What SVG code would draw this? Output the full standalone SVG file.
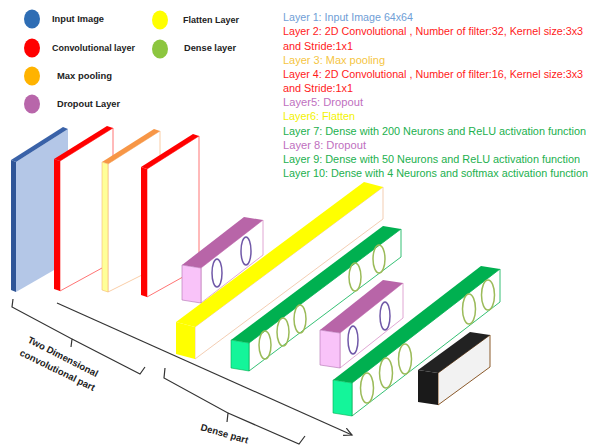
<svg xmlns="http://www.w3.org/2000/svg" width="593" height="448" viewBox="0 0 593 448">
<style>
.leg{font-family:"Liberation Sans",Arial,sans-serif;font-weight:bold;font-size:9px;fill:#222}
.lt{font-family:"Liberation Sans",Arial,sans-serif;font-size:10px}
.bt{font-family:"Liberation Sans",Arial,sans-serif;font-weight:bold;font-size:9.5px;fill:#222}
.red{fill:#ff1a1a}
.blu{fill:#6f9ed6}
.gold{fill:#f5c542}
.pur{fill:#c070c0}
.yel{fill:#f2f200}
.grn{fill:#22b04e}
.ell-p{fill:none;stroke:#7058a8;stroke-width:1.5}
.ell-g{fill:none;stroke:#9bbb59;stroke-width:1.5}
.line{fill:none;stroke:#333;stroke-width:1.2}
</style>
<defs>
<marker id="ah" markerWidth="10" markerHeight="10" refX="8" refY="5" orient="auto" markerUnits="userSpaceOnUse">
<path d="M0,1 L8,5 L0,9" fill="none" stroke="#333" stroke-width="1.2"/>
</marker>
</defs>
<rect width="593" height="448" fill="#fff"/>

<g id="legend">
<ellipse cx="32" cy="19" rx="8" ry="9.5" fill="#2e6db4"/>
<ellipse cx="32" cy="48" rx="8" ry="9.5" fill="#ff0000"/>
<ellipse cx="32" cy="76" rx="8" ry="9.5" fill="#ffb300"/>
<ellipse cx="32" cy="104" rx="8" ry="9.5" fill="#b866aa"/>
<ellipse cx="160" cy="20" rx="8" ry="9.5" fill="#ffff00"/>
<ellipse cx="160" cy="49" rx="8" ry="9.5" fill="#8cc63f"/>
<text class="leg" x="52" y="22" textLength="52" lengthAdjust="spacingAndGlyphs">Input Image</text>
<text class="leg" x="52" y="51" textLength="83" lengthAdjust="spacingAndGlyphs">Convolutional layer</text>
<text class="leg" x="57" y="79" textLength="55" lengthAdjust="spacingAndGlyphs">Max pooling</text>
<text class="leg" x="57" y="107" textLength="63" lengthAdjust="spacingAndGlyphs">Dropout Layer</text>
<text class="leg" x="183" y="23" textLength="56" lengthAdjust="spacingAndGlyphs">Flatten Layer</text>
<text class="leg" x="184" y="51" textLength="52" lengthAdjust="spacingAndGlyphs">Dense layer</text>
</g>

<g id="layer-text">
<text class="lt blu" x="283" y="21" textLength="130" lengthAdjust="spacingAndGlyphs">Layer 1: Input Image 64x64</text>
<text class="lt red" x="283" y="35" textLength="300" lengthAdjust="spacingAndGlyphs">Layer 2: 2D Convolutional , Number of filter:32, Kernel size:3x3</text>
<text class="lt red" x="283" y="49.5" textLength="70" lengthAdjust="spacingAndGlyphs">and Stride:1x1</text>
<text class="lt gold" x="283" y="63.5" textLength="102" lengthAdjust="spacingAndGlyphs">Layer 3: Max pooling</text>
<text class="lt red" x="283" y="78" textLength="300" lengthAdjust="spacingAndGlyphs">Layer 4: 2D Convolutional , Number of filter:16, Kernel size:3x3</text>
<text class="lt red" x="283" y="92" textLength="70" lengthAdjust="spacingAndGlyphs">and Stride:1x1</text>
<text class="lt pur" x="283" y="106" textLength="80" lengthAdjust="spacingAndGlyphs">Layer5: Dropout</text>
<text class="lt yel" x="283" y="120" textLength="72" lengthAdjust="spacingAndGlyphs">Layer6: Flatten</text>
<text class="lt grn" x="283" y="134.5" textLength="303" lengthAdjust="spacingAndGlyphs">Layer 7: Dense with 200 Neurons  and ReLU activation function</text>
<text class="lt pur" x="283" y="148.5" textLength="83" lengthAdjust="spacingAndGlyphs">Layer 8: Dropout</text>
<text class="lt grn" x="283" y="162.5" textLength="297" lengthAdjust="spacingAndGlyphs">Layer 9: Dense with 50 Neurons  and ReLU activation function</text>
<text class="lt grn" x="283" y="176.5" textLength="305" lengthAdjust="spacingAndGlyphs">Layer 10: Dense with 4 Neurons and softmax activation function</text>
</g>

<g id="input-image">
<polygon points="16,162 68,129 68,262 16,292" fill="#b4c7e7"/>
<polygon points="11,160 63,127 68,129 16,162" fill="#3a62a8"/>
<polygon points="11,160 16,162 16,292 11,290" fill="#2f5597"/>
</g>
<g id="conv1">
<polygon points="60,161 113,128 113,262 60,291" fill="#fff" stroke="#ff5050" stroke-width="0.8"/>
<polygon points="54,159 107,126 113,128 60,161" fill="#ff0000"/>
<polygon points="54,159 60,161 60,291 54,289" fill="#ff0000"/>
</g>
<g id="maxpool">
<polygon points="108,164 160,131 160,266 108,292" fill="#fff" stroke="#f8c090" stroke-width="0.8"/>
<polygon points="102,162 154,129 160,131 108,164" fill="#f79646"/>
<polygon points="102,162 108,164 108,292 102,290" fill="#ffff99" stroke="#f5b870" stroke-width="0.6"/>
</g>
<g id="conv2">
<polygon points="147,169 199,136 199,268 147,297" fill="#fff" stroke="#ff5050" stroke-width="0.8"/>
<polygon points="141,167 193,134 199,136 147,169" fill="#ff0000"/>
<polygon points="141,167 147,169 147,297 141,295" fill="#ff0000"/>
</g>

<g id="dropout1">
<polygon points="201,268 263,220 263,255 201,303" fill="#fff" stroke="#d890c8" stroke-width="0.8"/>
<polygon points="182,265 244,217 263,220 201,268" fill="#b865a8"/>
<polygon points="182,265 201,268 201,303 182,300" fill="#f9c3f9" stroke="#b070b0" stroke-width="0.6"/>
<ellipse class="ell-p" cx="217" cy="273" rx="5" ry="14"/>
<ellipse class="ell-p" cx="246" cy="251" rx="5" ry="14"/>
</g>

<g id="flatten">
<polygon points="195,327 383,187 383,219 195,359" fill="#fff" stroke="#f0c0a0" stroke-width="0.8"/>
<polygon points="176,322 364,182 383,187 195,327" fill="#ffff00"/>
<polygon points="176,322 195,327 195,359 176,354" fill="#ffff00"/>
</g>

<g id="dense200">
<polygon points="249,343 401,229 401,257 249,371" fill="#fff" stroke="#00b050" stroke-width="0.8"/>
<polygon points="231,340 383,226 401,229 249,343" fill="#00b050"/>
<polygon points="231,340 249,343 249,371 231,368" fill="#14f59a" stroke="#00b050" stroke-width="0.6"/>
<ellipse class="ell-g" cx="265" cy="345" rx="6" ry="14"/>
<ellipse class="ell-g" cx="283" cy="332" rx="6" ry="14"/>
<ellipse class="ell-g" cx="300" cy="319" rx="6" ry="14"/>
<ellipse class="ell-g" cx="355" cy="277" rx="6" ry="14"/>
<ellipse class="ell-g" cx="379" cy="259" rx="6" ry="14"/>
</g>

<g id="dropout2">
<polygon points="340,333 403,283 403,318 340,368" fill="#fff" stroke="#d890c8" stroke-width="0.8"/>
<polygon points="320,330 383,280 403,283 340,333" fill="#b865a8"/>
<polygon points="320,330 340,333 340,368 320,365" fill="#f9c3f9" stroke="#b070b0" stroke-width="0.6"/>
<ellipse class="ell-p" cx="353" cy="340" rx="5" ry="14"/>
<ellipse class="ell-p" cx="385" cy="316" rx="5" ry="14"/>
</g>

<g id="dense50">
<polygon points="352,383 500,269 500,302 352,416" fill="#fff" stroke="#00b050" stroke-width="0.8"/>
<polygon points="333,380 481,266 500,269 352,383" fill="#00b050"/>
<polygon points="333,380 352,383 352,416 333,413" fill="#14f59a" stroke="#00b050" stroke-width="0.6"/>
<ellipse class="ell-g" cx="367" cy="388" rx="6.5" ry="15"/>
<ellipse class="ell-g" cx="386" cy="373" rx="6.5" ry="15"/>
<ellipse class="ell-g" cx="405" cy="359" rx="6.5" ry="15"/>
<ellipse class="ell-g" cx="469" cy="309" rx="6.5" ry="15"/>
<ellipse class="ell-g" cx="488" cy="295" rx="6.5" ry="15"/>
</g>

<g id="dense4">
<polygon points="438,373 490,335 490,367 438,405" fill="#f2f2f2" stroke="#8b5a2b" stroke-width="1"/>
<polygon points="418,370 470,332 490,335 438,373" fill="#222"/>
<polygon points="418,370 438,373 438,405 418,402" fill="#1a1a1a"/>
</g>

<g id="connectors">
<path class="line" d="M57,303 L352,435" marker-end="url(#ah)"/>
<path class="line" d="M13,299 L12,307 L72,339 L71,347 M72,339 L140,374 L145,367"/>
<path class="line" d="M165,368 L164,378 L228,413 L227,422 M228,413 L299,444 L305,436"/>
</g>

<g id="part-labels">
<g transform="translate(27,342) rotate(27)"><text class="bt" x="0" y="0">Two  Dimensional</text></g>
<g transform="translate(19,355) rotate(26)"><text class="bt" x="0" y="0">convolutional part</text></g>
<g transform="translate(200,430) rotate(16)"><text class="bt" x="0" y="0">Dense part</text></g>
</g>
</svg>
